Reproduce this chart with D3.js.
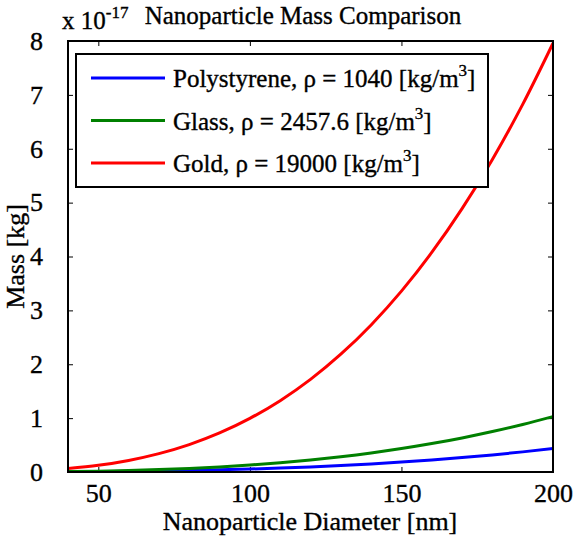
<!DOCTYPE html>
<html>
<head>
<meta charset="utf-8">
<script src="https://cdn.jsdelivr.net/npm/d3@7"></script>
<style>
  body { margin: 0; background: #fff; }
  svg text { font-family: "Liberation Serif", "Tinos", "DejaVu Serif", serif; fill: #000; stroke: #000; stroke-width: 0.35px; }
</style>
</head>
<body>
<script>
// diameters in nm
const diameters = [40, 50, 60, 70, 80, 90, 100, 110, 120, 130, 140, 150, 160, 170, 180, 190, 200];
// masses in units of 1e-17 kg
const polystyrene = [0.0035, 0.0068, 0.0118, 0.0187, 0.0279, 0.0397, 0.0545, 0.0725, 0.0941, 0.1196, 0.1494, 0.1838, 0.2231, 0.2675, 0.3176, 0.3735, 0.4356];
const glass = [0.0082, 0.0161, 0.0278, 0.0441, 0.0659, 0.0938, 0.1287, 0.1713, 0.2224, 0.2827, 0.3531, 0.4343, 0.5271, 0.6322, 0.7505, 0.8826, 1.0294];
const gold = [0.0637, 0.124, 0.215, 0.341, 0.509, 0.725, 0.995, 1.324, 1.719, 2.186, 2.730, 3.357, 4.075, 4.888, 5.802, 6.824, 7.959];

const seriesNames = ["Polystyrene, \u03c1 = 1040 [kg/m", "Glass, \u03c1 = 2457.6 [kg/m", "Gold, \u03c1 = 19000 [kg/m"];
const seriesColors = ["#0000ff", "#008000", "#ff0000"];
const xTicks = [50, 100, 150, 200];
const yTicks = [0, 1, 2, 3, 4, 5, 6, 7, 8];

const width = 583, height = 539;
const plotLeft = 68, plotRight = 553, plotTop = 41, plotBottom = 472;
const serif = '"Liberation Serif", "Tinos", "DejaVu Serif", serif';

const x = d3.scaleLinear().domain([40, 200]).range([plotLeft, plotRight]);
const y = d3.scaleLinear().domain([0, 8]).range([plotBottom, plotTop]);

const svg = d3.select('body').append('svg')
  .attr('width', width)
  .attr('height', height)
  .attr('font-family', serif);

svg.append('defs').append('clipPath').attr('id', 'clip')
  .append('rect').attr('x', plotLeft).attr('y', plotTop)
  .attr('width', plotRight - plotLeft).attr('height', plotBottom - plotTop);

// axes (ticks pointing inward, mirrored on the top/right)
const tickLen = 5;
svg.append('g').attr('transform', `translate(0,${plotBottom})`)
  .call(d3.axisBottom(x).tickValues(xTicks).tickSizeInner(-tickLen).tickSizeOuter(0).tickPadding(12));
svg.append('g').attr('transform', `translate(0,${plotTop})`)
  .call(d3.axisTop(x).tickValues(xTicks).tickSizeInner(-tickLen).tickSizeOuter(0).tickFormat(''));
svg.append('g').attr('transform', `translate(${plotLeft},0)`)
  .call(d3.axisLeft(y).tickValues(yTicks).tickSizeInner(-tickLen).tickSizeOuter(0).tickPadding(25));
svg.append('g').attr('transform', `translate(${plotRight},0)`)
  .call(d3.axisRight(y).tickValues(yTicks).tickSizeInner(-tickLen).tickSizeOuter(0).tickFormat(''));

svg.selectAll('g').attr('font-family', serif);
svg.selectAll('.domain').remove();
svg.selectAll('.tick line').attr('stroke', '#000').attr('stroke-width', 1);
svg.selectAll('.tick text')
  .style('font-family', serif)
  .style('font-size', '26px')
  .attr('fill', '#000');

// lines
const series = [polystyrene, glass, gold];
const line = d3.line()
  .x((d, i) => x(diameters[i]))
  .y(d => y(d))
  .curve(d3.curveMonotoneX);

svg.append('g').attr('clip-path', 'url(#clip)')
  .selectAll('path')
  .data(series)
  .enter().append('path')
  .attr('d', d => line(d))
  .attr('fill', 'none')
  .attr('stroke', (d, i) => seriesColors[i])
  .attr('stroke-width', 3);

// frame
svg.append('rect')
  .attr('x', plotLeft).attr('y', plotTop)
  .attr('width', plotRight - plotLeft).attr('height', plotBottom - plotTop)
  .attr('fill', 'none').attr('stroke', '#000').attr('stroke-width', 2);

// legend
const legend = svg.append('g');
legend.append('rect')
  .attr('x', 76).attr('y', 54).attr('width', 412).attr('height', 133)
  .attr('fill', '#fff').attr('stroke', '#000').attr('stroke-width', 2);
const rows = legend.selectAll('g.row').data(seriesNames).enter().append('g')
  .attr('class', 'row')
  .attr('transform', (d, i) => `translate(0,${78 + i * 42.5})`);
rows.append('line')
  .attr('x1', 91).attr('x2', 165)
  .attr('stroke', (d, i) => seriesColors[i]).attr('stroke-width', 3);
const lt = rows.append('text')
  .attr('x', 173).attr('y', 9)
  .style('font-size', '25px');
lt.append('tspan').text(d => d);
lt.append('tspan').attr('dy', -11).style('font-size', '17px').text('3');
lt.append('tspan').attr('dy', 11).text(']');

// title and labels
svg.append('text').attr('x', 303).attr('y', 24)
  .attr('text-anchor', 'middle').style('font-size', '25px')
  .text('Nanoparticle Mass Comparison');
const ex = svg.append('text').attr('x', 62).attr('y', 29).style('font-size', '25px');
ex.append('tspan').text('x 10');
ex.append('tspan').attr('dy', -11).style('font-size', '17px').text('-17');

svg.append('text').attr('x', 310).attr('y', 530)
  .attr('text-anchor', 'middle').style('font-size', '26px')
  .text('Nanoparticle Diameter [nm]');
svg.append('text')
  .attr('transform', `translate(24,${(plotTop + plotBottom) / 2}) rotate(-90)`)
  .attr('text-anchor', 'middle').style('font-size', '26px')
  .text('Mass [kg]');
</script>
</body>
</html>
